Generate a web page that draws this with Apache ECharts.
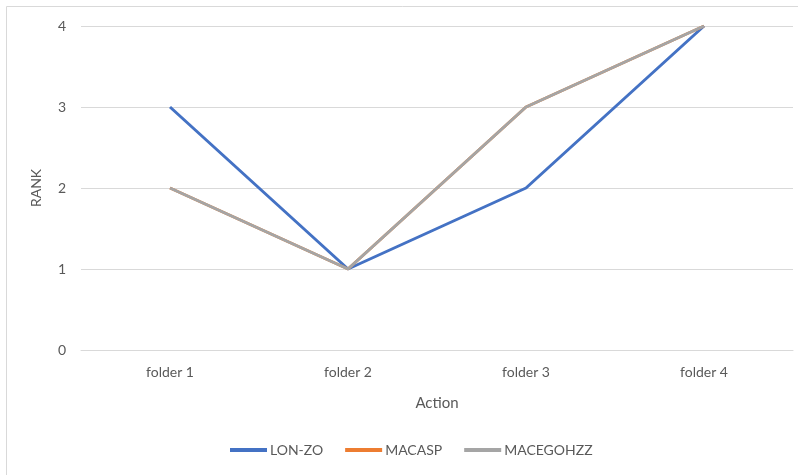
<!DOCTYPE html>
<html>
<head>
<meta charset="utf-8">
<script src="https://cdn.jsdelivr.net/npm/echarts@6/dist/echarts.min.js"></script>
<style>
  html, body { margin: 0; padding: 0; background: #fff; }
  #grafico { width: 798px; height: 475px; }
</style>
</head>
<body>
<div id="grafico"></div>
<script>
// Datos del gráfico
var categorias = ['folder 1', 'folder 2', 'folder 3', 'folder 4'];
var nombresSeries = ['LON-ZO', 'MACASP', 'MACEGOHZZ'];
var lonZo = [3, 1, 2, 4];
var macasp = [2, 1, 3, 4];
var macegohzz = [2, 1, 3, 4];
var coloresSeries = ['#4472C4', '#ED7D31', '#A5A5A5'];

var chart = echarts.init(document.getElementById('grafico'));

var fuente = 'Lato, "Open Sans", sans-serif';
var textoGris = '#595959';

function serie(nombre, datos, color) {
    return {
        name: nombre,
        type: 'line',
        data: datos,
        showSymbol: false,
        symbol: 'none',
        lineStyle: { width: 3, color: color },
        itemStyle: { color: color }
    };
}

var option = {
    animation: false,
    graphic: [{
        type: 'rect',
        shape: { x: 6.5, y: 6.5, width: 820, height: 500 },
        style: { fill: null, stroke: '#d9d9d9', lineWidth: 1 },
        silent: true
    }],
    grid: { left: 81, right: 5, top: 26, bottom: 125 },
    legend: {
        bottom: 13,
        left: 225,
        itemWidth: 37,
        itemHeight: 4,
        itemGap: 22,
        icon: 'rect',
        textStyle: { color: textoGris, fontFamily: fuente, fontSize: 14, padding: [0, 0, 0, -2] },
        data: nombresSeries
    },
    xAxis: {
        type: 'category',
        data: categorias,
        boundaryGap: true,
        name: 'Action',
        nameLocation: 'middle',
        nameGap: 46,
        nameTextStyle: { color: textoGris, fontFamily: fuente, fontSize: 15 },
        axisLine: { show: true, lineStyle: { color: '#d9d9d9', width: 1 } },
        axisTick: { show: false },
        axisLabel: { color: textoGris, fontFamily: fuente, fontSize: 14, margin: 15 }
    },
    yAxis: {
        type: 'value',
        min: 0,
        max: 4,
        interval: 1,
        name: 'RANK',
        nameLocation: 'middle',
        nameGap: 38,
        nameTextStyle: { color: textoGris, fontFamily: fuente, fontSize: 14 },
        axisLine: { show: false },
        axisTick: { show: false },
        axisLabel: { color: textoGris, fontFamily: fuente, fontSize: 14, margin: 15 },
        splitLine: { lineStyle: { color: '#d9d9d9', width: 1 } }
    },
    series: [
        serie(nombresSeries[0], lonZo, coloresSeries[0]),
        serie(nombresSeries[1], macasp, coloresSeries[1]),
        serie(nombresSeries[2], macegohzz, coloresSeries[2])
    ]
};

chart.setOption(option);
</script>
</body>
</html>
